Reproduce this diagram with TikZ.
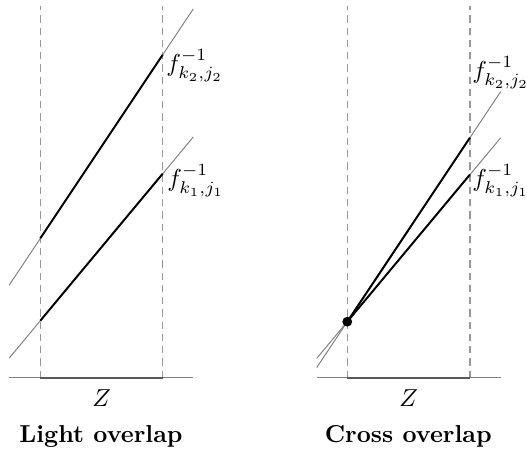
\documentclass[tikz,border=0pt]{standalone}
\begin{document}
\begin{tikzpicture}[x=0.408pt,y=-0.408pt,
  thinline/.style={black!50, line width=0.4pt},
  seg/.style={black, line width=0.8pt},
  guide/.style={black!40, dash pattern=on 3pt off 2pt, line width=0.5pt},
  axisline/.style={black!50, line width=0.4pt},
  zseg/.style={black!65, line width=0.5pt},
  lab/.style={inner sep=0pt, anchor=west},
  title/.style={inner sep=0pt, font=\bfseries}]
\useasboundingbox (0,0) rectangle (527,451);
% ---------- left panel: Light overlap ----------
\coordinate (LA) at (9.3,378);
\coordinate (LZ0) at (40.3,378);
\coordinate (LZ1) at (162.7,378);
\coordinate (LB) at (193.3,378);
\coordinate (LT0) at (40.3,6);
\coordinate (LT1) at (162.7,6);
\draw[guide] (LZ0) -- (LT0);
\draw[guide] (LZ1) -- (LT1);
\draw[axisline] (LA) -- (LB);
\draw[zseg] (LZ0) -- (LZ1);
% lower line (slope 1.2)
\coordinate (l1s) at (9.3,358);
\coordinate (l1a) at (40.3,320.7);
\coordinate (l1b) at (162.7,173.7);
\coordinate (l1e) at (193.3,137);
\draw[thinline] (l1s) -- (l1e);
\draw[seg] (l1a) -- (l1b);
% upper line (slope 1.5)
\coordinate (l2s) at (9.3,285);
\coordinate (l2a) at (40.3,238.4);
\coordinate (l2b) at (162.7,54.8);
\coordinate (l2e) at (193.3,8.9);
\draw[thinline] (l2s) -- (l2e);
\draw[seg] (l2a) -- (l2b);
\node[lab] (lk2) at (166,66) {$f^{-1}_{k_2,j_2}$};
\node[lab] (lk1) at (167,181) {$f^{-1}_{k_1,j_1}$};
\node (lZ) at (101.5,398) {$Z$};
\node[title] (lt) at (101,436) {Light overlap};
% ---------- right panel: Cross overlap ----------
\coordinate (RA) at (316.7,378);
\coordinate (RZ0) at (347.3,378);
\coordinate (RZ1) at (470,378);
\coordinate (RB) at (500.7,378);
\coordinate (RT0) at (347.3,6);
\coordinate (RT1) at (470,6);
\draw[guide] (RZ0) -- (RT0);
\draw[guide] (RZ1) -- (RT1);
\draw[axisline] (RA) -- (RB);
\draw[zseg] (RZ0) -- (RZ1);
\coordinate (D) at (347.3,321.7);
% lower line (slope 1.2)
\coordinate (r1s) at (316.7,358.4);
\coordinate (r1b) at (470,174.5);
\coordinate (r1e) at (500.7,137.8);
\draw[thinline] (r1s) -- (r1e);
\draw[seg] (D) -- (r1b);
% upper line (slope 1.5)
\coordinate (r2s) at (316.7,367.6);
\coordinate (r2b) at (470,137.6);
\coordinate (r2e) at (500.7,91.6);
\draw[thinline] (r2s) -- (r2e);
\draw[seg] (D) -- (r2b);
\fill (D) circle (2pt);
\node[lab] (rk2) at (472,73) {$f^{-1}_{k_2,j_2}$};
\node[lab] (rk1) at (472,181) {$f^{-1}_{k_1,j_1}$};
\node (rZ) at (408.6,398) {$Z$};
\node[title] (rt) at (408.3,436) {Cross overlap};
\end{tikzpicture}
\end{document}
